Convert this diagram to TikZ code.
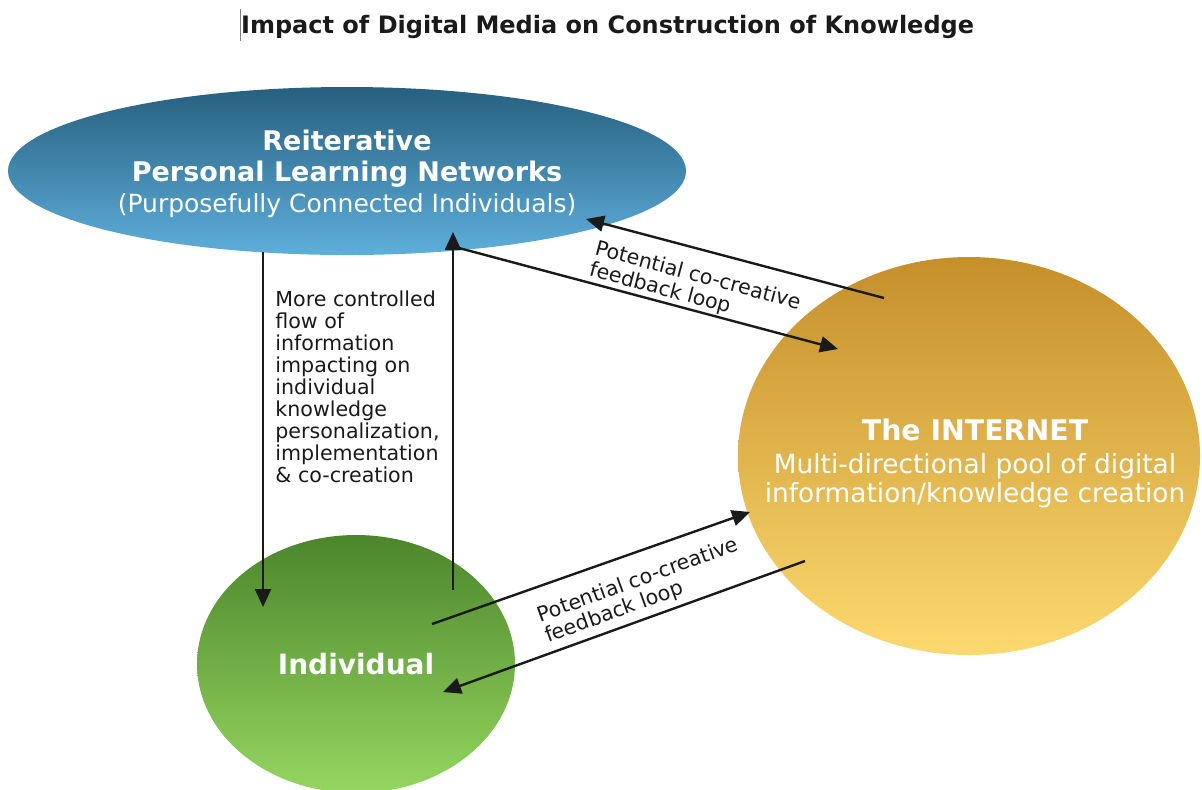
\documentclass[tikz,border=0pt]{standalone}
\usepackage{fontspec}
\setmainfont{DejaVu Sans}
\usetikzlibrary{shapes.geometric,arrows.meta}
\definecolor{plntop}{HTML}{27607F}
\definecolor{plnbot}{HTML}{5EAEDB}
\definecolor{nettop}{HTML}{C58F2A}
\definecolor{netbot}{HTML}{FCD970}
\definecolor{indtop}{HTML}{4C862C}
\definecolor{indbot}{HTML}{95D660}
\definecolor{inktxt}{HTML}{1A1A1A}
\begin{document}
\begin{tikzpicture}[x=0.5pt,y=-0.5pt,every node/.style={inner sep=0pt},
  blob/.style={ellipse,text=white,align=center},
  flow/.style={line width=1.2pt,draw=inktxt,-{Triangle[length=9pt,width=8pt]}},
  note/.style={text=inktxt,align=left,font=\fontsize{10.3}{11}\selectfont}]
\useasboundingbox (0,0) rectangle (1202,789);
\node[text=inktxt,font=\bfseries\fontsize{12}{14}\selectfont] (title) at (607,25) {{\color{gray}\rule[-0.3em]{0.6pt}{1.3em}}Impact of Digital Media on Construction of Knowledge};
\node[blob,minimum width=339pt,minimum height=84pt,top color=plntop,bottom color=plnbot] (pln) at (347,171) {};
\node[text=white,align=center,font=\bfseries\fontsize{13.5}{15.5}\selectfont] (plntxt) at (347,174) {Reiterative\\Personal Learning Networks\\{\mdseries\fontsize{12.5}{15.5}\selectfont (Purposefully Connected Individuals)}};
\node[blob,minimum width=231pt,minimum height=199pt,top color=nettop,bottom color=netbot] (net) at (969,456) {};
\node[text=white,align=center,font=\fontsize{13.2}{14.5}\selectfont] (nettxt) at (975,463) {{\bfseries\fontsize{14.2}{14.5}\selectfont The INTERNET}\\[2pt]Multi-directional pool of digital\\information/knowledge creation};
\node[blob,minimum width=159pt,minimum height=129pt,top color=indtop,bottom color=indbot,font=\bfseries\fontsize{14}{16}\selectfont] (ind) at (356,664) {Individual};
\node[note,anchor=north west] (flowtxt) at (275,290) {More controlled\\flow of\\information\\impacting on\\individual\\knowledge\\personalization,\\implementation\\\& co-creation};
\node[note,rotate=-15] (loopa) at (695,287) {Potential co-creative\\feedback loop};
\node[note,rotate=20] (loopb) at (642,591) {Potential co-creative\\feedback loop};
\coordinate (v1s) at (263,252);
\coordinate (v1e) at (263,607);
\coordinate (v2s) at (453,590);
\coordinate (v2e) at (453,232);
\coordinate (a1s) at (884,298);
\coordinate (a1e) at (586,219);
\coordinate (a2s) at (459,248);
\coordinate (a2e) at (838,349);
\coordinate (b1s) at (432,624);
\coordinate (b1e) at (750,512);
\coordinate (b2s) at (805,561);
\coordinate (b2e) at (443,692);
\draw[flow] (v1s) -- (v1e);
\draw[flow] (v2s) -- (v2e);
\draw[flow] (a1s) -- (a1e);
\draw[flow] (a2s) -- (a2e);
\draw[flow] (b1s) -- (b1e);
\draw[flow] (b2s) -- (b2e);
\end{tikzpicture}
\end{document}
